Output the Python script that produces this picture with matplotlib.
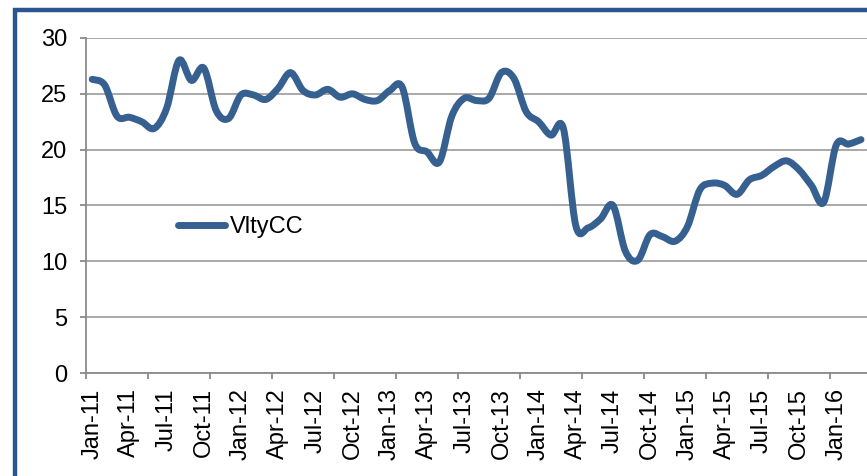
import matplotlib
matplotlib.use("Agg")
import matplotlib.pyplot as plt
import numpy as np
from matplotlib.path import Path
from matplotlib.patches import PathPatch, Rectangle
from matplotlib.lines import Line2D
from matplotlib.ticker import FixedLocator

plt.rcParams['font.family'] = ['Liberation Sans', 'DejaVu Sans']

series_name = "VltyCC"
months = ["Jan", "Feb", "Mar", "Apr", "May", "Jun", "Jul", "Aug", "Sep", "Oct", "Nov", "Dec"]
years = [11, 12, 13, 14, 15, 16]
values = [26.3, 25.8, 23.0, 22.9, 22.5, 21.9, 23.7, 28.0, 26.2, 27.3, 23.5, 22.8,
          24.9, 24.9, 24.5, 25.5, 26.9, 25.3, 24.9, 25.4, 24.7, 25.0, 24.5, 24.4,
          25.3, 25.6, 20.6, 19.8, 18.9, 23.0, 24.6, 24.4, 24.6, 26.9, 26.4, 23.4,
          22.5, 21.3, 21.9, 13.2, 13.0, 13.8, 15.0, 10.9, 10.1, 12.4, 12.2, 11.8,
          13.1, 16.4, 17.0, 16.8, 16.0, 17.3, 17.7, 18.5, 19.0, 18.2, 16.8, 15.3,
          20.4, 20.5, 20.9]
categories = [f"{months[i % 12]}-{years[i // 12]}" for i in range(len(values))]

line_color = "#36608F"
border_color = "#2A5590"
grid_color = "#A3A3A3"
axis_color = "#8A8A8A"

fig = plt.figure(figsize=(8.67, 4.76), dpi=100)
ax = fig.add_axes([86/867, (476-373)/476, 1 - 86/867, (373-38)/476])

x = np.arange(len(values), dtype=float)
y = np.array(values, dtype=float)

# smoothed line (Catmull-Rom as cubic Bezier segments)
verts = [(x[0], y[0])]
codes = [Path.MOVETO]
n = len(x)
for i in range(n - 1):
    p0 = np.array([x[max(i-1, 0)], y[max(i-1, 0)]])
    p1 = np.array([x[i], y[i]])
    p2 = np.array([x[i+1], y[i+1]])
    p3 = np.array([x[min(i+2, n-1)], y[min(i+2, n-1)]])
    c1 = p1 + (p2 - p0) / 6.0
    c2 = p2 - (p3 - p1) / 6.0
    verts += [tuple(c1), tuple(c2), tuple(p2)]
    codes += [Path.CURVE4, Path.CURVE4, Path.CURVE4]
path = Path(verts, codes)
patch = PathPatch(path, facecolor='none', edgecolor=line_color, lw=5.0,
                  capstyle='round', joinstyle='round', zorder=3)
ax.add_patch(patch)

ax.set_xlim(-0.5, -0.5 + 781/12.4)
ax.set_ylim(0, 30)
ax.set_yticks([0, 5, 10, 15, 20, 25, 30])
ax.yaxis.grid(True, color=grid_color, lw=1.3)
ax.set_axisbelow(True)

label_idx = [i for i in range(0, len(values), 3) if i <= 60]
ax.set_xticks(label_idx)
ax.set_xticklabels([categories[i] for i in label_idx], rotation=90, fontsize=17)
ax.xaxis.set_minor_locator(FixedLocator([-0.5 + 5*k for k in range(13)]))
ax.tick_params(axis='x', which='major', length=0, pad=11)
ax.tick_params(axis='x', which='minor', length=4, width=1.3, color=axis_color, direction='out')
ax.tick_params(axis='y', which='major', length=4.5, width=1.3, color=axis_color, pad=9, labelsize=17)

for s in ['top', 'right']:
    ax.spines[s].set_visible(False)
for s in ['left', 'bottom']:
    ax.spines[s].set_color(axis_color)
    ax.spines[s].set_linewidth(1.3)

handle = Line2D([0], [0], color=line_color, lw=5.0, solid_capstyle='round')
ax.legend([handle], [series_name], loc='center left', bbox_to_anchor=(0.118, 0.436),
          frameon=False, fontsize=17, borderpad=0, borderaxespad=0,
          handlelength=2.0, handletextpad=0.2)

fig.patches.append(Rectangle((15/867, -0.2), 1.5, 1 - 9.5/476 + 0.2,
                             transform=fig.transFigure, fill=False,
                             edgecolor=border_color, lw=3.2, zorder=10))

fig.savefig("out.png", dpi=100)
